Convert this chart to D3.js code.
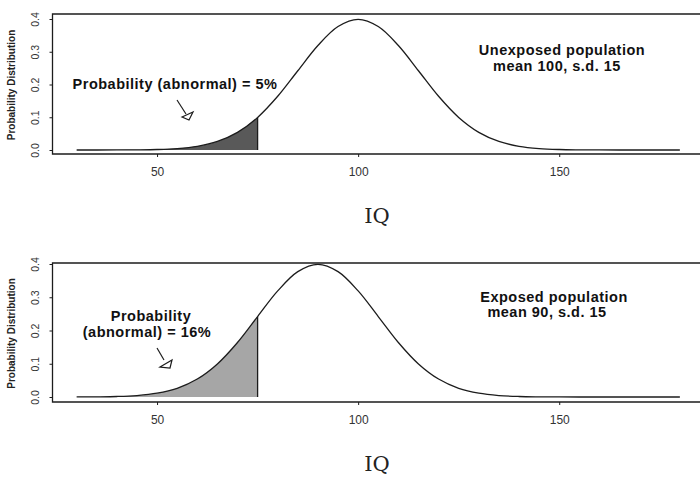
<!DOCTYPE html>
<html>
<head>
<meta charset="utf-8">
<script src="https://cdn.jsdelivr.net/npm/d3@7"></script>
<style>
  body { margin: 0; background: #fff; }
  svg { display: block; }
</style>
</head>
<body>
<svg id="vis_svg"></svg>
<script>
// IQ values where the curves were read (every 5 points)
let iq = [30, 35, 40, 45, 50, 55, 60, 65, 70, 75, 80, 85, 90, 95, 100, 105,
          110, 115, 120, 125, 130, 135, 140, 145, 150, 155, 160, 165, 170, 175, 180];

// Curve heights
let unexposed = [0, 0, 0.0001, 0.0005, 0.0015, 0.0044, 0.0114, 0.0262, 0.054, 0.0995,
                 0.164, 0.242, 0.319, 0.377, 0.399, 0.377, 0.319, 0.242, 0.164, 0.0995,
                 0.054, 0.0262, 0.0114, 0.0044, 0.0015, 0.0005, 0.0001, 0, 0, 0, 0];
let exposed = [0.0001, 0.0005, 0.0015, 0.0044, 0.0114, 0.0262, 0.054, 0.0995, 0.164, 0.242,
               0.319, 0.377, 0.399, 0.377, 0.319, 0.242, 0.164, 0.0995, 0.054, 0.0262,
               0.0114, 0.0044, 0.0015, 0.0005, 0.0001, 0, 0, 0, 0, 0, 0];

let cutoff = 75;
let xTicks = [50, 100, 150];
let yTicks = [0, 0.1, 0.2, 0.3, 0.4];

let panels = [
    { values: unexposed, top: 14, bottom: 154, y0: 150, y4: 19, fill: '#595959',
      title: ['Unexposed population', 'mean 100, s.d. 15'],
      prob: ['Probability (abnormal) = 5%'] },
    { values: exposed, top: 263, bottom: 402, y0: 397, y4: 264, fill: '#a6a6a6',
      title: ['Exposed population', 'mean 90, s.d. 15'],
      prob: ['Probability', '(abnormal) = 16%'] }
];

let config = { width: 700, height: 479 };

function translate(x, y) {
    return 'translate(' + x + ',' + y + ')';
}

let svg = d3.select('#vis_svg')
    .attr('width', config.width)
    .attr('height', config.height);

// x scale: R style, data range padded by 4%
let x = d3.scaleLinear().domain([24, 186]).range([52.5, 704]);

let ink = '#1c1c1c';

panels.forEach(function(p, i) {
    let y = d3.scaleLinear().domain([0, 0.4]).range([p.y0, p.y4]);
    let g = svg.append('g');
    let pts = iq.map((d, j) => ({ x: d, y: p.values[j] }));

    // shaded tail
    let tail = pts.filter(d => d.x <= cutoff);
    let area = d3.area()
        .x(d => x(d.x))
        .y0(y(0))
        .y1(d => y(d.y))
        .curve(d3.curveCatmullRom.alpha(0.5));
    g.append('path')
        .datum(tail)
        .attr('d', area)
        .attr('fill', p.fill);
    let last = tail[tail.length - 1];
    g.append('line')
        .attr('x1', x(last.x)).attr('x2', x(last.x))
        .attr('y1', y(0)).attr('y2', y(last.y))
        .attr('stroke', ink).attr('stroke-width', 1.3);

    // curve
    let line = d3.line()
        .x(d => x(d.x))
        .y(d => y(d.y))
        .curve(d3.curveCatmullRom.alpha(0.5));
    g.append('path')
        .datum(pts)
        .attr('d', line)
        .attr('fill', 'none')
        .attr('stroke', ink)
        .attr('stroke-width', 1.3);

    // box (top and bottom lines + left)
    g.append('path')
        .attr('d', 'M700,' + p.top + 'H52.5V' + p.bottom + 'H700')
        .attr('fill', 'none')
        .attr('stroke', ink)
        .attr('stroke-width', 1.3);

    // x axis
    let xAxis = d3.axisBottom(x).tickValues(xTicks).tickSize(3).tickPadding(10);
    let xa = g.append('g')
        .attr('transform', translate(0, p.bottom))
        .call(xAxis);
    xa.select('.domain').remove();
    xa.selectAll('line').attr('stroke', ink);
    xa.selectAll('text')
        .attr('font-family', 'Liberation Sans, Arial, sans-serif')
        .attr('font-size', 12)
        .attr('fill', '#333');

    // y axis
    let yAxis = d3.axisLeft(y).tickValues(yTicks).tickSize(3).tickFormat(d3.format('.1f'));
    let ya = g.append('g')
        .attr('transform', translate(52.5, 0))
        .call(yAxis);
    ya.select('.domain').remove();
    ya.selectAll('line').attr('stroke', ink);
    ya.selectAll('text')
        .attr('font-family', 'Liberation Sans, Arial, sans-serif')
        .attr('font-size', 10.5)
        .attr('fill', '#333')
        .attr('text-anchor', 'middle')
        .attr('transform', 'translate(-17,0) rotate(-90)')
        .attr('x', 0)
        .attr('dy', '0.35em');

    // y label
    g.append('text')
        .attr('transform', translate(15, (p.top + p.bottom) / 2 + 1) + ' rotate(-90)')
        .attr('text-anchor', 'middle')
        .attr('font-family', 'Liberation Sans Narrow, Liberation Sans, Arial, sans-serif')
        .attr('font-weight', 'bold')
        .attr('font-size', 10)
        .attr('fill', '#222')
        .text('Probability Distribution');

    // x label
    g.append('text')
        .attr('x', 377)
        .attr('y', p.bottom + 69)
        .attr('text-anchor', 'middle')
        .attr('font-family', 'DejaVu Serif, Liberation Serif, serif')
        .attr('font-size', 21)
        .attr('fill', '#222')
        .text('IQ');
});

// annotations
let bold = { family: 'Liberation Sans, Arial, sans-serif', size: 14.5 };

function label(txt, cx, cy) {
    svg.append('text')
        .attr('x', cx).attr('y', cy)
        .attr('text-anchor', 'middle')
        .attr('dy', '0.35em')
        .attr('font-family', bold.family)
        .attr('font-weight', 'bold')
        .attr('font-size', bold.size)
        .attr('letter-spacing', 0.5)
        .attr('fill', '#111')
        .text(txt);
}

label('Unexposed population', 562, 50);
label('mean 100, s.d. 15', 557, 66);
label('Exposed population', 554, 297);
label('mean 90, s.d. 15', 547, 312);
label('Probability (abnormal) = 5%', 175, 84);
label('Probability', 151, 316);
label('(abnormal) = 16%', 147, 332);

// hand-drawn style arrows
function arrow(x1, y1, x2, y2, tri) {
    svg.append('line')
        .attr('x1', x1).attr('y1', y1).attr('x2', x2).attr('y2', y2)
        .attr('stroke', ink).attr('stroke-width', 1.2);
    svg.append('polygon')
        .attr('points', tri.map(d => d.join(',')).join(' '))
        .attr('fill', '#fff')
        .attr('stroke', ink)
        .attr('stroke-width', 1.2);
}
arrow(177, 100, 186, 114, [[182, 117], [193, 112], [189, 120]]);
arrow(157, 348, 164, 360, [[160, 367], [172, 360], [170, 368]]);
</script>
</body>
</html>
